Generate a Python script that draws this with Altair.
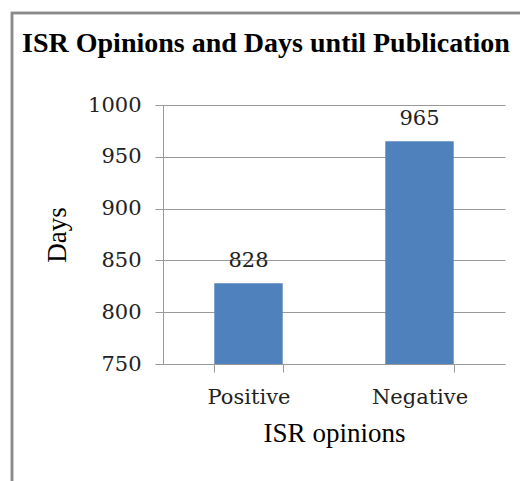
import altair as alt
import pandas as pd

categories = ["Positive", "Negative"]
days = [828, 965]
y_ticks = [750, 800, 850, 900, 950, 1000]

df = pd.DataFrame({"opinion": categories, "days": days})

W, H = 342, 259
PL, PT = 163, 105

x = alt.X("opinion:N", sort=categories, title="ISR opinions",
          scale=alt.Scale(paddingInner=0.6, paddingOuter=0.3),
          axis=alt.Axis(labelAngle=0, labelFont="DejaVu Serif", labelFontSize=21,
                        labelColor="#222", labelPadding=14,
                        titleFont="Liberation Serif", titleFontSize=27, titleFontWeight="normal",
                        titleColor="#000", titlePadding=13,
                        domainColor="#999", tickColor="#999", tickSize=8,
                        tickBand="extent", domainWidth=1))
y = alt.Y("days:Q", title="Days",
          scale=alt.Scale(domain=[750, 1000], nice=False, zero=False),
          axis=alt.Axis(values=y_ticks, format="d", labelFont="DejaVu Serif", labelFontSize=21,
                        labelColor="#222", labelPadding=14,
                        titleFont="Liberation Serif", titleFontSize=27, titleFontWeight="normal",
                        titleColor="#000", titlePadding=16,
                        domainColor="#999", tickColor="#999", tickSize=8,
                        gridColor="#999", gridWidth=1))

bars = alt.Chart(df).mark_bar(color="#4F81BD", clip=True).encode(x=x, y=y)
labels = alt.Chart(df).mark_text(font="DejaVu Serif", fontSize=21, color="#222",
                                 baseline="alphabetic", dy=-16).encode(
    x=alt.X("opinion:N", sort=categories), y="days:Q", text="days:Q")
border = alt.Chart(df).mark_rect(fill=None, stroke="#8a8a8a", strokeWidth=2.5).encode(
    x=alt.value(12 - PL), y=alt.value(13 - PT),
    x2=alt.value(520 - PL + 20), y2=alt.value(481 - PT + 20))

chart = alt.layer(border, bars, labels).properties(
    width=W, height=H,
    autosize=alt.AutoSizeParams(type="none"),
    padding={"left": PL, "top": PT, "right": 520 - PL - W, "bottom": 481 - PT - H},
    title=alt.TitleParams("ISR Opinions and Days until Publication", font="Liberation Serif",
                          fontSize=28, fontWeight="bold", color="#000", anchor="middle",
                          dx=-68, offset=0, dy=46),
).configure_view(stroke=None).configure_axis(grid=False).configure_axisY(grid=True)

chart.save("out.html", embed_options={"renderer": "svg", "actions": False})
